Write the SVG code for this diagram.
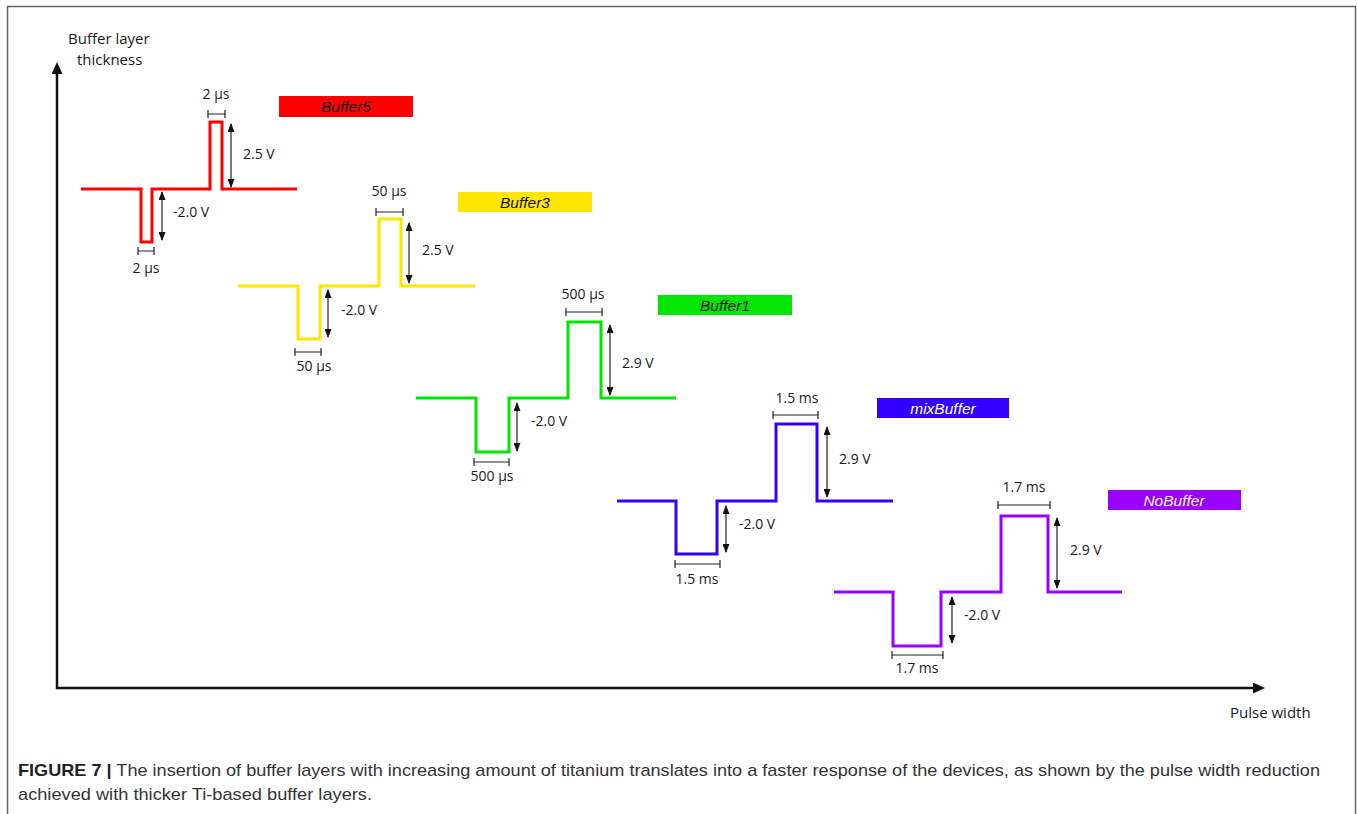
<svg xmlns="http://www.w3.org/2000/svg" width="1357" height="814" viewBox="0 0 1357 814">
<defs>
<marker id="ah" markerUnits="userSpaceOnUse" markerWidth="9" markerHeight="7" refX="8" refY="3.5" orient="auto-start-reverse" viewBox="0 0 9 7">
<path d="M0 0 L9 3.5 L0 7 Z" fill="#111"/>
</marker>
<marker id="axh" markerUnits="userSpaceOnUse" markerWidth="13" markerHeight="11" refX="2" refY="5.5" orient="auto" viewBox="0 0 13 11">
<path d="M0 0 L12 5.5 L0 11 Z" fill="#111"/>
</marker>
</defs>
<style>
.wave{fill:none;stroke-width:3;stroke-linejoin:miter}
.dim{fill:none;stroke:#222;stroke-width:1.2}
.arr{fill:none;stroke:#222;stroke-width:1.2;marker-start:url(#ah);marker-end:url(#ah)}
.lbl{font-family:"Open Sans","DejaVu Sans",sans-serif;font-size:14px;fill:#1a1a1a}
.ax{font-size:15px}
.mid{text-anchor:middle}
.tag{font-family:"Liberation Sans",Arial,sans-serif;font-size:15.5px;font-style:italic;text-anchor:middle}
.cap{font-family:"Liberation Sans",Arial,sans-serif;font-size:17px;fill:#333}
</style>
<rect width="1357" height="814" fill="#fff"/>
<path d="M7.5 820 V6.5 H1355.5 V820" fill="none" stroke="#666" stroke-width="1.5"/>

<g id="axes">
<line x1="57" y1="689" x2="57" y2="72" stroke="#111" stroke-width="2.5" marker-end="url(#axh)"/>
<line x1="56" y1="688" x2="1255" y2="688" stroke="#111" stroke-width="2.5" marker-end="url(#axh)"/>
<text class="lbl ax" x="68" y="44">Buffer layer</text>
<text class="lbl ax" x="77" y="65">thickness</text>
<text class="lbl ax" x="1230" y="718">Pulse width</text>
</g>

<g id="buffer5">
<path class="wave" stroke="#ff0000" d="M81 189 H141 V242 H152 V189 H210 V122 H222 V189 H297"/>
<path class="dim" d="M208 114 H225 M208 110 V118 M225 110 V118 M138 251 H154 M138 247 V255 M154 247 V255"/>
<line class="arr" x1="231" y1="124" x2="231" y2="187"/>
<line class="arr" x1="162" y1="192" x2="162" y2="240"/>
<text class="lbl mid" x="216" y="99">2 µs</text>
<text class="lbl" x="243" y="159">2.5 V</text>
<text class="lbl" x="173" y="217">-2.0 V</text>
<text class="lbl mid" x="146" y="273">2 µs</text>
<rect x="279" y="96" width="134" height="21" fill="#ff0000"/>
<text class="tag" x="346" y="112" fill="#111">Buffer5</text>
</g>

<g id="buffer3">
<path class="wave" stroke="#ffe600" d="M238 286 H298 V339 H320 V286 H379 V219 H401 V286 H475"/>
<path class="dim" d="M376 212 H403 M376 208 V216 M403 208 V216 M295 352 H321 M295 348 V356 M321 348 V356"/>
<line class="arr" x1="409" y1="223" x2="409" y2="283"/>
<line class="arr" x1="328" y1="290" x2="328" y2="337"/>
<text class="lbl mid" x="389" y="196">50 µs</text>
<text class="lbl" x="422" y="255">2.5 V</text>
<text class="lbl" x="341" y="315">-2.0 V</text>
<text class="lbl mid" x="314" y="371">50 µs</text>
<rect x="458" y="192" width="134" height="20" fill="#ffe600"/>
<text class="tag" x="525" y="207.5" fill="#111">Buffer3</text>
</g>

<g id="buffer1">
<path class="wave" stroke="#00e600" d="M416 398 H476 V452 H509 V398 H568 V322 H601 V398 H676"/>
<path class="dim" d="M566 312 H602 M566 308 V316 M602 308 V316 M474 462 H509 M474 458 V466 M509 458 V466"/>
<line class="arr" x1="610" y1="325" x2="610" y2="395"/>
<line class="arr" x1="517" y1="403" x2="517" y2="451"/>
<text class="lbl mid" x="583" y="299">500 µs</text>
<text class="lbl" x="622" y="368">2.9 V</text>
<text class="lbl" x="531" y="426">-2.0 V</text>
<text class="lbl mid" x="492" y="481">500 µs</text>
<rect x="658" y="295" width="134" height="20" fill="#00e600"/>
<text class="tag" x="725" y="310.5" fill="#111">Buffer1</text>
</g>

<g id="mixbuffer">
<path class="wave" stroke="#3300ff" d="M617 501 H676 V554 H717 V501 H776 V424 H817 V501 H893"/>
<path class="dim" d="M773 415 H818 M773 411 V419 M818 411 V419 M675 564 H720 M675 560 V568 M720 560 V568"/>
<line class="arr" x1="827" y1="427" x2="827" y2="497"/>
<line class="arr" x1="726" y1="506" x2="726" y2="552"/>
<text class="lbl mid" x="797" y="403">1.5 ms</text>
<text class="lbl" x="839" y="464">2.9 V</text>
<text class="lbl" x="739" y="529">-2.0 V</text>
<text class="lbl mid" x="697" y="584">1.5 ms</text>
<rect x="877" y="398" width="132" height="20" fill="#3300ff"/>
<text class="tag" x="943" y="413.5" fill="#fff">mixBuffer</text>
</g>

<g id="nobuffer">
<path class="wave" stroke="#9b00ff" d="M834 592 H893 V646 H941 V592 H1001 V516 H1048 V592 H1122"/>
<path class="dim" d="M998 505 H1050 M998 501 V509 M1050 501 V509 M892 655 H943 M892 651 V659 M943 651 V659"/>
<line class="arr" x1="1057" y1="518" x2="1057" y2="588"/>
<line class="arr" x1="952" y1="597" x2="952" y2="643"/>
<text class="lbl mid" x="1024" y="492">1.7 ms</text>
<text class="lbl" x="1070" y="555">2.9 V</text>
<text class="lbl" x="964" y="620">-2.0 V</text>
<text class="lbl mid" x="917" y="673">1.7 ms</text>
<rect x="1108" y="490" width="133" height="20" fill="#9b00ff"/>
<text class="tag" x="1174" y="505.5" fill="#fff">NoBuffer</text>
</g>

<g id="caption">
<text class="cap" x="18" y="776" textLength="1302" lengthAdjust="spacingAndGlyphs"><tspan font-weight="bold" fill="#222">FIGURE 7 |</tspan> The insertion of buffer layers with increasing amount of titanium translates into a faster response of the devices, as shown by the pulse width reduction</text>
<text class="cap" x="18" y="800" textLength="354" lengthAdjust="spacingAndGlyphs">achieved with thicker Ti-based buffer layers.</text>
</g>
</svg>
